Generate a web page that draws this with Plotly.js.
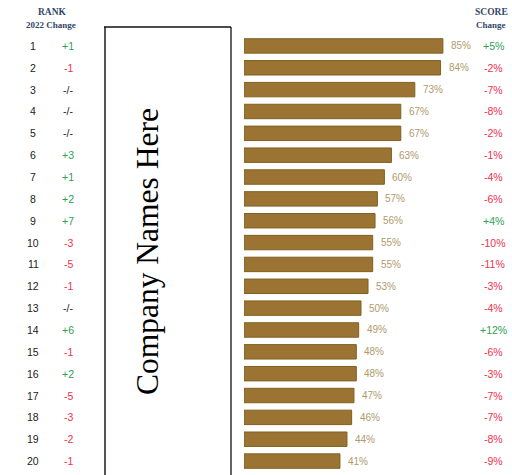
<!DOCTYPE html>
<html>
<head>
<meta charset="utf-8">
<script src="https://cdn.plot.ly/plotly-3.0.1.min.js"></script>
<style>html,body{margin:0;padding:0;background:#fff;}#chart{width:512px;height:475px;}</style>
</head>
<body>
<div id="chart"></div>
<script>
// ---- data ----
const ranks = [1,2,3,4,5,6,7,8,9,10,11,12,13,14,15,16,17,18,19,20];
const rankChange = ["+1","-1","-/-","-/-","-/-","+3","+1","+2","+7","-3","-5","-1","-/-","+6","-1","+2","-5","-3","-2","-1"];
const scores = [85,84,73,67,67,63,60,57,56,55,55,53,50,49,48,48,47,46,44,41];
const scoreChange = ["+5%","-2%","-7%","-8%","-2%","-1%","-4%","-6%","+4%","-10%","-11%","-3%","-4%","+12%","-6%","-3%","-7%","-7%","-8%","-9%"];
const placeholder = "Company Names Here";

// ---- layout geometry ----
const W = 512, H = 475;
const L = 244, R = 34, T = 35, B = 3;
const PW = W - L - R, PH = H - T - B;
const px = x => (x - L) / PW;       // pixel x -> paper x
const py = y => 1 - (y - T) / PH;   // pixel y -> paper y

const GREEN = "#2e9e52", RED = "#f0304c", NEUTRAL = "#222";
const colorFor = s => s.startsWith("+") ? GREEN : (s.startsWith("-/") ? NEUTRAL : RED);
const HEAD = "#34466a";

const trace = {
  type: "bar",
  orientation: "h",
  x: scores,
  y: ranks,
  marker: {color: "#9b7433", line: {color: "#80601f", width: 1}},
  width: 0.66,
  hoverinfo: "skip"
};

const ann = [];
ranks.forEach((r, i) => {
  ann.push({xref: "paper", yref: "y", x: px(33), y: r, text: String(r), showarrow: false,
            xanchor: "center", yanchor: "middle", font: {family: "Liberation Sans", size: 10.5, color: "#222"}});
  ann.push({xref: "paper", yref: "y", x: px(68), y: r, text: rankChange[i], showarrow: false,
            xanchor: "center", yanchor: "middle", font: {family: "Liberation Sans", size: 10.5, color: colorFor(rankChange[i])}});
  ann.push({xref: "x", yref: "y", x: scores[i], y: r, text: scores[i] + "%", showarrow: false,
            xanchor: "left", yanchor: "middle", xshift: 6,
            font: {family: "Liberation Sans Narrow, Liberation Sans", size: 10, color: "#b09a6c"}});
  ann.push({xref: "paper", yref: "y", x: px(493), y: r, text: scoreChange[i], showarrow: false,
            xanchor: "center", yanchor: "middle", font: {family: "Liberation Sans", size: 10.5, color: colorFor(scoreChange[i])}});
});

// headers
ann.push({xref: "paper", yref: "paper", x: px(52), y: py(12), text: "<b>RANK</b>", showarrow: false,
          xanchor: "center", yanchor: "middle", font: {family: "Liberation Serif", size: 9.5, color: HEAD}});
ann.push({xref: "paper", yref: "paper", x: px(51), y: py(25), text: "<b>2022 Change</b>", showarrow: false,
          xanchor: "center", yanchor: "middle", font: {family: "Liberation Serif", size: 9, color: HEAD}});
ann.push({xref: "paper", yref: "paper", x: px(491), y: py(12), text: "<b>SCORE</b>", showarrow: false,
          xanchor: "center", yanchor: "middle", font: {family: "Liberation Serif", size: 9.5, color: HEAD}});
ann.push({xref: "paper", yref: "paper", x: px(491), y: py(25), text: "<b>Change</b>", showarrow: false,
          xanchor: "center", yanchor: "middle", font: {family: "Liberation Serif", size: 9, color: HEAD}});

// placeholder text
ann.push({xref: "paper", yref: "paper", x: px(147), y: py(252), text: placeholder, showarrow: false,
          textangle: -90, xanchor: "center", yanchor: "middle",
          font: {family: "Liberation Serif", size: 31.5, color: "#000"}});

const shapes = [
  {type: "line", xref: "paper", yref: "paper", x0: px(105), x1: px(105), y0: py(27), y1: py(480), line: {color: "#555", width: 2}, layer: "above"},
  {type: "line", xref: "paper", yref: "paper", x0: px(104), x1: px(231), y0: py(27), y1: py(27), line: {color: "#111", width: 1.3}, layer: "above"},
  {type: "line", xref: "paper", yref: "paper", x0: px(231), x1: px(231), y0: py(27), y1: py(480), line: {color: "#111", width: 1.3}, layer: "above"}
];

const layout = {
  width: W, height: H,
  margin: {l: L, r: R, t: T, b: B, pad: 0},
  paper_bgcolor: "#fff", plot_bgcolor: "#fff",
  showlegend: false,
  xaxis: {range: [0, 100], visible: false, fixedrange: true},
  yaxis: {range: [20.5, 0.5], visible: false, fixedrange: true},
  annotations: ann,
  shapes: shapes
};

Plotly.newPlot("chart", [trace], layout, {displayModeBar: false, staticPlot: true});
</script>
</body>
</html>
